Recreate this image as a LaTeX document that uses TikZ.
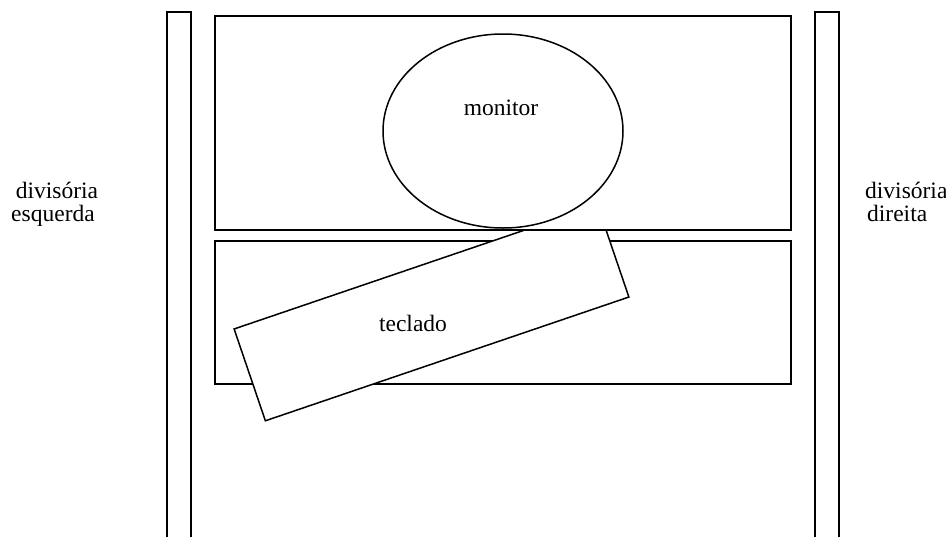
\documentclass[tikz,border=0pt]{standalone}
\usepackage{fontspec}
\setmainfont{Liberation Serif}
\usetikzlibrary{shapes.geometric}
\begin{document}
\begin{tikzpicture}[x=1pt,y=-1pt,
  line/.style={draw=black,line width=1.5pt},
  panel/.style={line,fill=white},
  lbl/.style={font=\fontsize{23.5}{27}\selectfont,inner sep=0pt,anchor=base}]
\useasboundingbox (0,0) rectangle (946,536);
% side partitions
\draw[line,line width=1.8pt] (167,545) -- (167,12) -- (191,12) -- (191,545);
\draw[line,line width=1.8pt] (815,545) -- (815,12) -- (839,12) -- (839,545);
% lower shelf
\path[panel] (215,241) rectangle (791,384);
% keyboard
\node[panel,rectangle,minimum width=384pt,minimum height=97pt,inner sep=0pt,outer sep=0pt,rotate=18.8] (kbd) at (431.5,313) {};
% upper shelf
\path[panel] (215,16) rectangle (791,230);
% monitor
\node[line,ellipse,minimum width=240pt,minimum height=194pt,inner sep=0pt] (mon) at (503,131) {};
\node[lbl] (tmon) at (501,115) {monitor};
\node[lbl] (tkbd) at (413,331) {teclado};
\node[lbl] (l1) at (57,198) {divisória};
\node[lbl] (l2) at (53,221) {esquerda};
\node[lbl,anchor=base west] (r1) at (865,198) {divisória};
\node[lbl,anchor=base west] (r2) at (867,221) {direita};
\end{tikzpicture}
\end{document}
